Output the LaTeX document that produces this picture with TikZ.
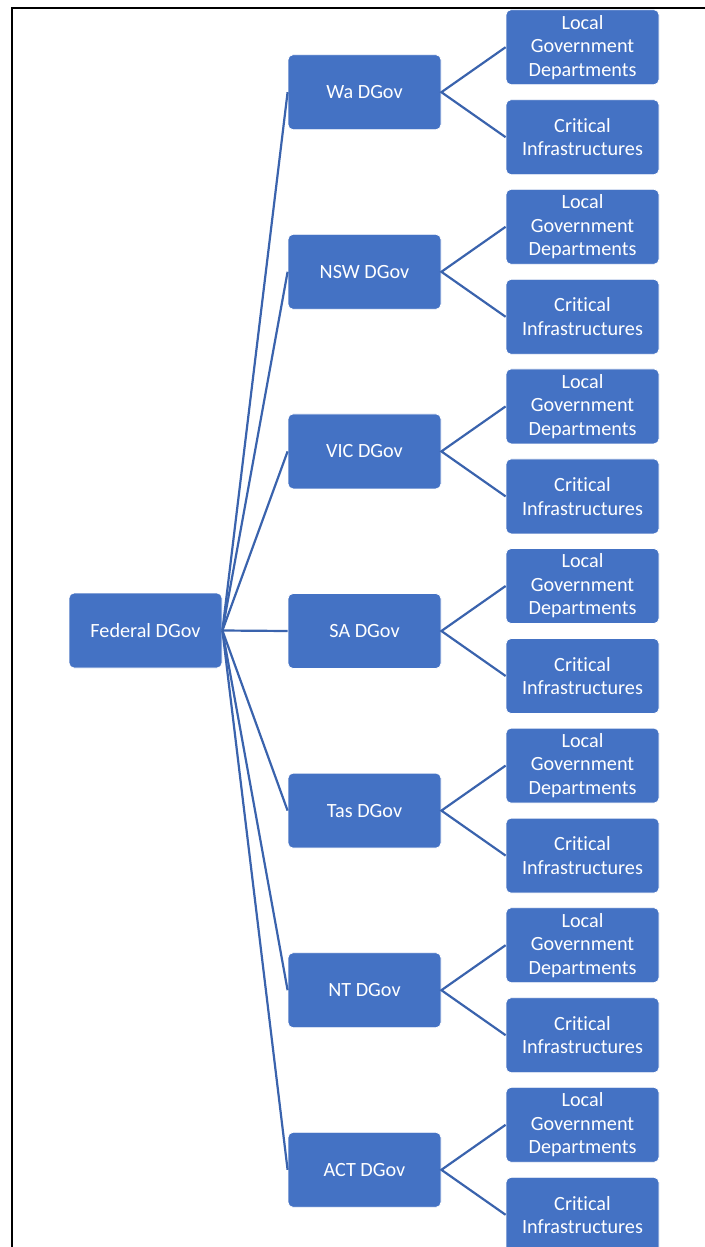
\documentclass[tikz,border=0pt]{standalone}
\usepackage{fontspec}
\setmainfont[Ligatures={NoCommon}]{Carlito}
\usepackage{xcolor}
\usetikzlibrary{positioning}

\definecolor{boxblue}{HTML}{4472C4}
\definecolor{linkblue}{HTML}{3A63AD}

\tikzset{
  govbox/.style={draw=white, line width=0.8pt, fill=boxblue, rounded corners=5pt,
    minimum width=153pt, minimum height=75pt, inner sep=0pt,
    text=white, align=center, font=\fontsize{20.2}{23.5}\selectfont},
  link/.style={linkblue, line width=2.2pt}
}

\begin{document}
\begin{tikzpicture}[x=1pt, y=-1pt]

    % ==========================================
    % PAGE FRAME (right and bottom edges fall off the page)
    % ==========================================
    \useasboundingbox (0,0) rectangle (704,1247);
    \draw[line width=2pt] (11.5,1250) -- (11.5,8) -- (706,8);

    % ==========================================
    % ROOT
    % ==========================================
    \node[govbox] (fed) at (145.5,630.5) {Federal DGov};

    % ==========================================
    % STATES AND THEIR TWO BRANCHES
    % ==========================================
    \foreach \name/\lab [count=\i] in {wa/Wa DGov, nsw/NSW DGov, vic/VIC DGov,
        sa/SA DGov, tas/Tas DGov, nt/NT DGov, act/ACT DGov} {
        \pgfmathsetmacro{\yc}{92.2 + 179.6*(\i-1)}
        \node[govbox] (\name) at (364.5,\yc) {\lab};
        \node[govbox] (\name-loc) at (582.5,\yc-45) {Local\\Government\\Departments};
        \node[govbox] (\name-crit) at (582.5,\yc+45) {Critical\\Infrastructures};

        % links
        \draw[link] (fed.east) -- (\name.west);
        \draw[link] (\name-loc.west) -- (\name.east) -- (\name-crit.west);
    }

\end{tikzpicture}
\end{document}
